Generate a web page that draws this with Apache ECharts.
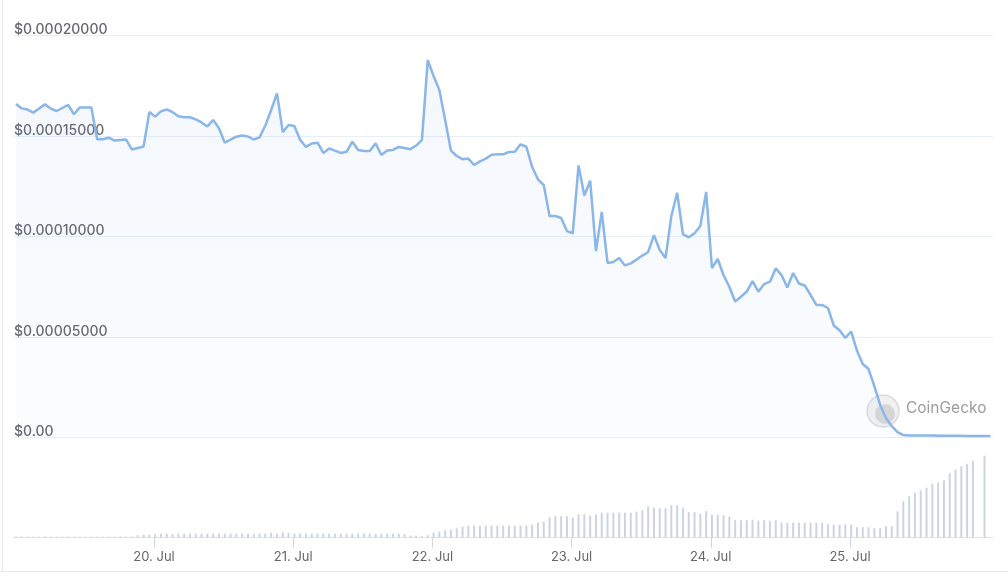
<!DOCTYPE html>
<html>
<head>
<meta charset="utf-8">
<script src="https://cdn.jsdelivr.net/npm/echarts@6/dist/echarts.min.js"></script>
<style>
  html, body { margin: 0; padding: 0; background: #ffffff; }
  #chart { width: 1008px; height: 582px; }
</style>
</head>
<body>
<div id="chart"></div>
<script>
// ---- Data (hourly, hours counted from 19 Jul 00:00) ----
const firstHour = 0.2;          // first sample, hours after 19 Jul 00:00
const axisStartHour = -0.14;
const axisEndHour = 168.66;
const startDay = 19;
const dayTickHours = [24, 48, 72, 96, 120, 144];   // 20 Jul ... 25 Jul

// price, in units of $0.00001
const pricesE5 = [
  16.60, 16.38, 16.32, 16.17, 16.37, 16.58, 16.37, 16.25, 16.40, 16.55,
  16.09, 16.43, 16.43, 16.43, 14.84, 14.84, 14.92, 14.78, 14.81, 14.83,
  14.33, 14.41, 14.48, 16.20, 15.97, 16.23, 16.33, 16.19, 15.99, 15.94,
  15.94, 15.83, 15.68, 15.48, 15.80, 15.39, 14.67, 14.82, 14.97, 15.03,
  14.98, 14.83, 14.94, 15.53, 16.30, 17.13, 15.20, 15.55, 15.50, 14.81,
  14.46, 14.63, 14.67, 14.16, 14.38, 14.28, 14.16, 14.22, 14.72, 14.31,
  14.26, 14.26, 14.64, 14.06, 14.28, 14.31, 14.46, 14.41, 14.35, 14.53,
  14.81, 18.79, 17.99, 17.30, 15.80, 14.28, 14.01, 13.85, 13.88, 13.56,
  13.74, 13.88, 14.07, 14.09, 14.09, 14.21, 14.22, 14.59, 14.47, 13.46,
  12.85, 12.56, 11.02, 11.02, 10.92, 10.27, 10.16, 13.54, 12.04, 12.78,
  9.28, 11.22, 8.68, 8.73, 8.93, 8.56, 8.66, 8.85, 9.05, 9.23,
  10.07, 9.33, 8.93, 11.02, 12.18, 10.12, 9.96, 10.16, 10.52, 12.22,
  8.43, 8.88, 8.07, 7.50, 6.76, 7.00, 7.26, 7.78, 7.25, 7.63,
  7.75, 8.41, 8.08, 7.46, 8.18, 7.66, 7.56, 7.09, 6.59, 6.59,
  6.44, 5.57, 5.33, 4.95, 5.27, 4.32, 3.65, 3.40, 2.55, 1.61,
  0.96, 0.56, 0.26, 0.11, 0.09, 0.09, 0.09, 0.09, 0.09, 0.08,
  0.08, 0.08, 0.08, 0.08, 0.07, 0.07, 0.07, 0.07, 0.07
];

// hourly volume (relative units)
const volumes = [
  1.2, 1, 1.2, 1, 1, 1.2, 1, 1, 1, 1.2, 1, 1, 1, 1, 1, 1, 1, 1, 1.2, 1, 1.2,
  2.5, 3, 3, 3.5,
  4, 4, 3.5, 4, 4, 4, 4, 4, 4, 4, 4, 4, 4, 4, 4, 4, 4, 4, 4, 5, 4,
  5.5, 5, 4,
  4, 4, 4, 4, 4, 4, 4, 4, 4, 4, 4, 4, 4, 4, 4, 4, 4, 4, 3.5,
  2, 2, 1.5, 2.5,
  5, 6, 7.5, 8, 9.5, 11,
  12, 12, 12, 12, 12, 12, 12, 12, 12, 12, 12,
  13, 15, 16,
  20.5, 21.5, 21.5, 21.5, 20, 23.5, 23.5, 22, 23, 25,
  25, 25, 25, 25, 25, 26, 27.5, 31, 30, 29.5,
  29.5, 32.5, 32.5, 30, 25.5, 25.5, 24, 26.5, 23, 23,
  22.5, 21, 18, 17.5, 17.5, 18, 17, 17.5, 17, 17.5,
  15, 15, 15, 15, 15, 15, 15, 15, 13.5, 13,
  13, 13.5, 13, 10.5, 10.5, 10.5, 9.5, 9.5, 11.5, 11.5,
  26.5, 36.5, 41.5, 45, 47.5, 50, 54, 55, 57.5, 64.5,
  68, 71.5, 74, 77, null, 82, null
];

const priceTicks = [0, 0.00005, 0.0001, 0.00015, 0.0002];

// ---- Build ----
const priceData = pricesE5.map((v, i) => [firstHour + i, v * 1e-5]);
const volumeData = volumes.map((v, i) => [firstHour + i, v]);

const chart = echarts.init(document.getElementById('chart'), null, { renderer: 'canvas' });

const FONT = 'Inter, "Noto Sans", sans-serif';

chart.setOption({
  animation: false,
  backgroundColor: '#ffffff',
  grid: [
    { left: 14, right: 15, top: 35.7, bottom: 144.7 },
    { left: 14, right: 15, top: 455, bottom: 44.3 }
  ],
  xAxis: [
    {
      type: 'value', gridIndex: 0, min: axisStartHour, max: axisEndHour,
      show: false
    },
    {
      type: 'value', gridIndex: 1, min: axisStartHour, max: axisEndHour,
      axisLine: { show: true, lineStyle: { color: '#dce3ee', width: 1 } },
      axisTick: { show: true, length: 10, customValues: dayTickHours, lineStyle: { color: '#ccd6eb' } },
      splitLine: { show: false },
      axisLabel: {
        customValues: dayTickHours,
        margin: 13,
        color: '#666666',
        fontSize: 13,
        fontFamily: FONT,
        formatter: v => (startDay + Math.round(v / 24)) + '. Jul'
      }
    }
  ],
  yAxis: [
    {
      type: 'value', gridIndex: 0, min: priceTicks[0], max: priceTicks[priceTicks.length - 1],
      interval: priceTicks[1] - priceTicks[0],
      axisLine: { show: false }, axisTick: { show: false },
      splitLine: { show: true, lineStyle: { color: '#e8eef7', width: 1 } },
      axisLabel: {
        inside: true, margin: 0, verticalAlign: 'bottom', align: 'left',
        color: '#66666e', fontSize: 14, fontWeight: 500, fontFamily: FONT,
        lineHeight: 11,
        formatter: v => v === 0 ? '$0.00' : '$' + v.toFixed(8)
      },
      z: 3
    },
    {
      type: 'value', gridIndex: 1, min: 0, max: 82.7, show: false,
      splitLine: { show: false }
    }
  ],
  graphic: [
    { type: 'line', z: -10, shape: { x1: 2.5, y1: 0, x2: 2.5, y2: 571.5 }, style: { stroke: '#e6e6ef', lineWidth: 1 } },
    { type: 'line', z: -10, shape: { x1: 0, y1: 571.5, x2: 1008, y2: 571.5 }, style: { stroke: '#e6e6ef', lineWidth: 1 } },
    { type: 'circle', z: -5, shape: { cx: 883, cy: 411, r: 16 }, style: { fill: 'rgba(205,205,205,0.3)', stroke: 'rgba(190,190,190,0.5)', lineWidth: 1.5 } },
    { type: 'circle', z: -5, shape: { cx: 885, cy: 414, r: 10 }, style: { fill: 'rgba(175,175,175,0.4)' } },
    { type: 'text', z: -5, left: 906, top: 400, style: { text: 'CoinGecko', fill: '#9c9c9c', font: '15.5px ' + FONT } }
  ],
  series: [
    {
      type: 'line', xAxisIndex: 0, yAxisIndex: 0,
      data: priceData,
      showSymbol: false,
      lineStyle: { color: '#8ab6e8', width: 2.5 },
      itemStyle: { color: '#8ab6e8' },
      areaStyle: {
        color: new echarts.graphic.LinearGradient(0, 0, 0, 1, [
          { offset: 0, color: 'rgba(130,175,228,0.13)' },
          { offset: 1, color: 'rgba(130,175,228,0.04)' }
        ])
      },
      z: 5
    },
    {
      type: 'bar', xAxisIndex: 1, yAxisIndex: 1,
      data: volumeData,
      barWidth: 2,
      itemStyle: { color: '#cdd4e0' }
    }
  ]
});
</script>
</body>
</html>
